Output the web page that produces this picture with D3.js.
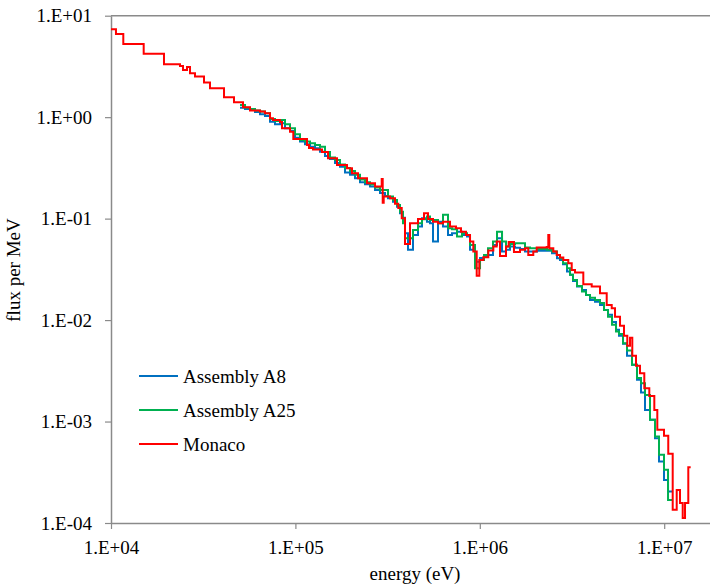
<!DOCTYPE html>
<html><head><meta charset="utf-8">
<script src="https://cdn.jsdelivr.net/npm/d3@7/dist/d3.min.js"></script>
<style>
body{margin:0;background:#fff}
svg text{font-family:"Times New Roman","Liberation Serif",Tinos,"DejaVu Serif",serif !important;fill:#000}
</style>
</head><body>
<svg id="chart" width="710" height="588"></svg>
<script>
// Monaco: bin edges (eV) and flux per MeV per bin
const monacoEdges = [10000,10640,11660,15040,19380,23670,24580,25840,26820,28540,31940,34420,41010,46450,51970,56730,64270,68410,72840,75600,82510,84580,93480,97410,115600,118500,124600,139400,150300,168100,190500,202700,218500,244500,270200,293800,297500,301200,325800,346900,361400,377200,392900,418300,462300,498300,523800,557600,593400,631600,689300,742800,790700,841800,885100,922100,962100,993800,1.045e6,1.112e6,1.184e6,1.235e6,1.287e6,1.387e6,1.434e6,1.532e6,1.652e6,1.759e6,1.832e6,1.950e6,2.035e6,2.306e6,2.352e6,2.382e6,2.504e6,2.612e6,2.722e6,2.837e6,3.019e6,3.151e6,3.283e6,3.642e6,4.045e6,4.486e6,4.878e6,5.193e6,5.411e6,5.760e6,6.053e6,6.308e6,6.524e6,6.714e6,7.032e6,7.392e6,7.800e6,8.303e6,8.839e6,9.175e6,9.975e6,1.052e7,1.112e7,1.169e7,1.218e7,1.260e7,1.297e7,1.351e7,1.392e7];
const monacoFlux = [7.35,6.60,5.26,4.22,3.32,3.19,2.92,3.12,2.71,2.51,2.19,1.93,1.57,1.40,1.25,1.16,1.14,1.09,0.975,0.939,0.897,0.777,0.720,0.610,0.532,0.497,0.481,0.454,0.394,0.338,0.314,0.280,0.250,0.223,0.207,0.246,0.143,0.165,0.159,0.140,0.127,0.101,0.0563,0.0901,0.0993,0.113,0.0993,0.0934,0.0901,0.0934,0.0834,0.0804,0.0744,0.0691,0.0594,0.0473,0.0273,0.0392,0.0417,0.0484,0.0530,0.0594,0.0429,0.0530,0.0589,0.0470,0.0492,0.0511,0.0439,0.0473,0.0518,0.0526,0.0691,0.0511,0.0473,0.0439,0.0413,0.0392,0.0364,0.0312,0.0294,0.0226,0.0214,0.0184,0.0141,0.0131,0.0108,0.00877,0.00699,0.00557,0.00668,0.00444,0.00354,0.00300,0.00213,0.00179,0.00130,8.28e-4,7.23e-4,4.81e-4,1.35e-4,2.12e-4,1.57e-4,1.12e-4,1.57e-4,3.55e-4];

// Assemblies A8 / A25: shared bin edges (eV)
const assemblyEdges = [50080,53300,56730,60380,64270,68410,72840,77520,82510,87820,93480,99500,105900,112700,120000,127700,135900,144700,154000,164000,174500,185800,197800,210500,224000,238500,253900,270200,287600,306100,317800,338300,355600,369200,383200,392900,407900,434200,462300,486000,517200,537000,557600,593400,631600,672200,706700,752200,800600,852300,885100,941900,1.003e6,1.054e6,1.108e6,1.179e6,1.240e6,1.320e6,1.387e6,1.458e6,1.552e6,1.652e6,1.759e6,1.872e6,2.043e6,2.314e6,2.463e6,2.623e6,2.722e6,2.826e6,2.971e6,3.085e6,3.202e6,3.366e6,3.583e6,3.767e6,3.960e6,4.215e6,4.486e6,4.716e6,4.958e6,5.212e6,5.479e6,5.688e6,5.979e6,6.285e6,6.689e6,7.120e6,7.484e6,7.868e6,8.375e6,8.915e6,9.372e6,9.975e6,1.049e7,1.116e7];
const a8Flux = [1.241,1.205,1.178,1.125,1.068,1.028,0.903,0.851,0.871,0.777,0.731,0.628,0.574,0.541,0.512,0.494,0.457,0.415,0.388,0.354,0.325,0.285,0.270,0.250,0.228,0.218,0.207,0.192,0.179,0.167,0.159,0.147,0.131,0.113,0.102,0.0718,0.0492,0.0691,0.0834,0.101,0.0934,0.0901,0.0594,0.0934,0.0834,0.0691,0.0718,0.0744,0.0691,0.0665,0.0492,0.0375,0.0410,0.0422,0.0439,0.0551,0.0641,0.0473,0.0492,0.0530,0.0515,0.0503,0.0473,0.0473,0.0481,0.0481,0.0456,0.0407,0.0392,0.0355,0.0301,0.0279,0.0243,0.0214,0.0198,0.0177,0.0158,0.0152,0.0141,0.0126,0.0113,0.00960,0.00801,0.00699,0.00583,0.00444,0.00362,0.00258,0.00193,0.00130,0.00104,6.86e-4,4.04e-4,2.66e-4,2.04e-4];
const a25Flux = [1.319,1.241,1.205,1.164,1.138,1.092,0.960,0.917,0.938,0.851,0.777,0.679,0.596,0.574,0.553,0.532,0.512,0.454,0.401,0.379,0.342,0.316,0.295,0.270,0.243,0.228,0.217,0.203,0.192,0.192,0.165,0.153,0.136,0.117,0.0901,0.0641,0.0641,0.0774,0.0901,0.0987,0.105,0.0971,0.0971,0.0901,0.109,0.0804,0.0786,0.0665,0.0718,0.0691,0.0551,0.0325,0.0392,0.0439,0.0511,0.0594,0.0744,0.0594,0.0530,0.0563,0.0572,0.0572,0.0518,0.0511,0.0503,0.0492,0.0473,0.0439,0.0407,0.0364,0.0325,0.0279,0.0249,0.0217,0.0191,0.0177,0.0166,0.0158,0.0147,0.0126,0.0108,0.00897,0.00770,0.00731,0.00592,0.00501,0.00362,0.00268,0.00239,0.00183,0.00104,7.12e-4,4.70e-4,3.34e-4,1.69e-4];

const xTickValues = [1e4, 1e5, 1e6, 1e7];
const yTickValues = [1e1, 1e0, 1e-1, 1e-2, 1e-3, 1e-4];
const seriesNames = ["Assembly A8", "Assembly A25", "Monaco"];
const seriesColors = ["#0070C0", "#00B050", "#FF0000"];
const xTitle = "energy (eV)";
const yTitle = "flux per MeV";

(function () {
  const svg = d3.select("#chart");
  const plotLeft = 111, plotTop = 15.7, plotBottom = 523, decadePx = 184.4;
  const x = d3.scaleLog().domain([1e4, 1e8]).range([plotLeft, plotLeft + 4 * decadePx]);
  const y = d3.scaleLog().domain([1e-4, 1e1]).range([plotBottom, plotTop]);

  const fmt = v => { const e = Math.round(Math.log10(v)); return "1.E" + (e < 0 ? "-" : "+") + String(Math.abs(e)).padStart(2, "0"); };
  const axisColor = "#8a8a8a";
  const serif = "'Times New Roman','Liberation Serif',Tinos,'DejaVu Serif',serif";

  svg.append("line").attr("x1", plotLeft).attr("x2", 710).attr("y1", plotTop).attr("y2", plotTop)
    .attr("stroke", axisColor).attr("stroke-width", 1.5);

  const gx = svg.append("g").attr("transform", `translate(0,${plotBottom})`)
    .call(d3.axisBottom(x).tickValues(xTickValues).tickFormat(fmt).tickSize(6).tickSizeOuter(0).tickPadding(12));
  const gy = svg.append("g").attr("transform", `translate(${plotLeft},0)`)
    .call(d3.axisLeft(y).tickValues(yTickValues).tickFormat(fmt).tickSize(6).tickSizeOuter(0).tickPadding(13));
  [gx, gy].forEach(g => {
    g.attr("font-family", serif).attr("font-size", 19);
    g.select(".domain").attr("stroke", axisColor).attr("stroke-width", 1.5);
    g.selectAll(".tick line").attr("stroke", axisColor).attr("stroke-width", 1.2);
    g.selectAll(".tick text").style("font-family", serif).style("font-size", "19px").attr("fill", "#000");
  });

  const stepLine = d3.line().x(d => x(d[0])).y(d => y(d[1])).curve(d3.curveStepAfter);
  function pts(edges, vals) {
    const p = vals.map((v, i) => [edges[i], v]);
    p.push([edges[vals.length], vals[vals.length - 1]]);
    return p;
  }
  const series = [
    { edges: assemblyEdges, vals: a8Flux },
    { edges: assemblyEdges, vals: a25Flux },
    { edges: monacoEdges, vals: monacoFlux }
  ];
  series.forEach((s, i) => {
    svg.append("path").attr("d", stepLine(pts(s.edges, s.vals)))
      .attr("fill", "none").attr("stroke", seriesColors[i]).attr("stroke-width", 2);
  });

  const lg = svg.append("g");
  seriesNames.forEach((n, i) => {
    const ly = 376 + i * 34;
    lg.append("line").attr("x1", 139).attr("x2", 178).attr("y1", ly).attr("y2", ly)
      .attr("stroke", seriesColors[i]).attr("stroke-width", 2);
    lg.append("text").attr("x", 183).attr("y", ly + 7).style("font-family", serif).style("font-size", "19px").text(n);
  });

  svg.append("text").attr("x", 415).attr("y", 580).attr("text-anchor", "middle")
    .style("font-family", serif).style("font-size", "19px").text(xTitle);
  svg.append("text").attr("transform", "translate(20,270) rotate(-90)").attr("text-anchor", "middle")
    .style("font-family", serif).style("font-size", "19px").text(yTitle);
})();
</script>
</body></html>
